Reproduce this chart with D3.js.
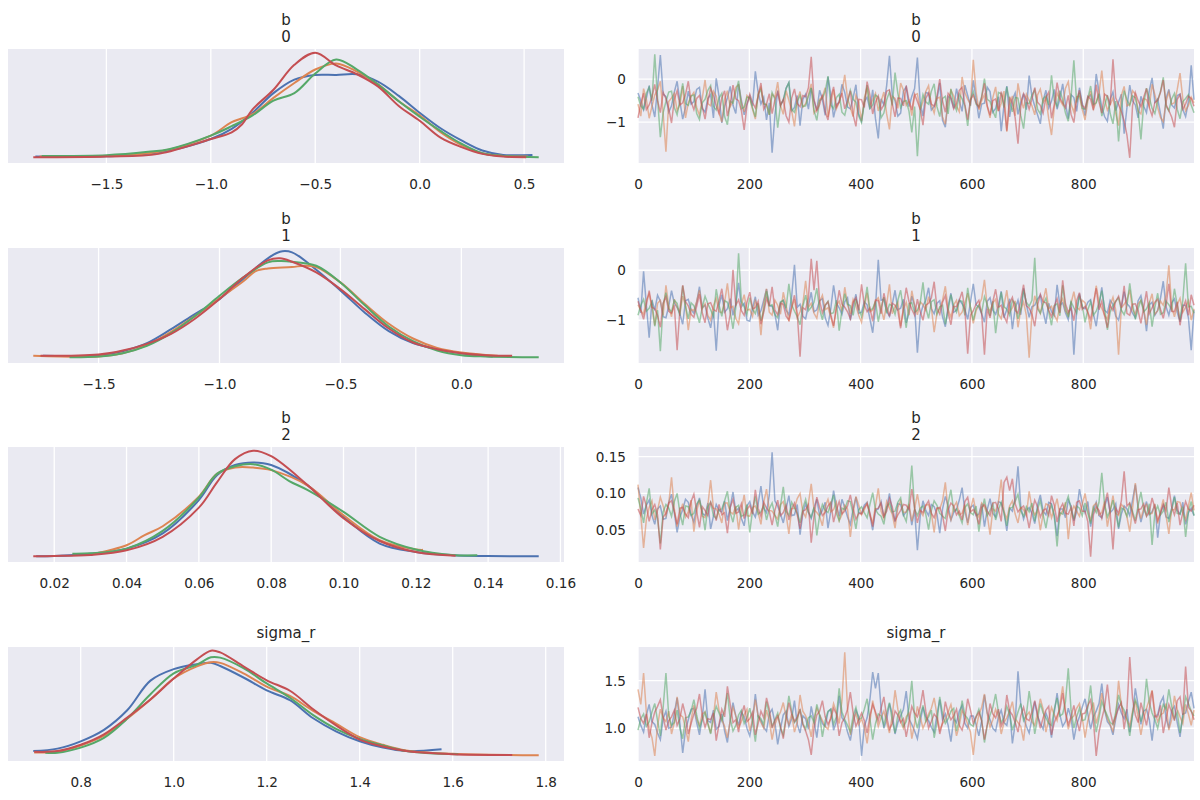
<!DOCTYPE html>
<html>
<head>
<meta charset="utf-8">
<script src="https://cdn.jsdelivr.net/npm/d3@7"></script>
<style>
  body { margin: 0; background: #fff; }
  svg { display: block; font-family: "DejaVu Sans", sans-serif; }
</style>
</head>
<body>
<svg id="chart" width="1200" height="800"></svg>
<script>
// chain colours (seaborn "deep")
const chainColors = ["#4c72b0", "#dd8452", "#55a868", "#c44e52"];

const titles = [["b", "0"], ["b", "1"], ["b", "2"], ["sigma_r"]];

// KDE per chain: [value, density]
const kdeB0 = [
  [[-1.84,0.01],[-1.5,0.015],[-1.25,0.07],[-1.0,0.27],[-0.9,0.42],[-0.8,0.66],[-0.7,0.95],[-0.6,1.15],[-0.5,1.22],[-0.4,1.22],[-0.3,1.23],[-0.2,1.12],[-0.1,0.91],[0.0,0.66],[0.1,0.43],[0.2,0.25],[0.3,0.1],[0.4,0.035],[0.54,0.035]],
  [[-1.82,0.01],[-1.5,0.02],[-1.25,0.08],[-1.0,0.32],[-0.9,0.52],[-0.8,0.64],[-0.7,0.88],[-0.6,1.1],[-0.5,1.3],[-0.4,1.39],[-0.3,1.27],[-0.2,1.08],[-0.1,0.83],[0.0,0.62],[0.1,0.37],[0.2,0.18],[0.3,0.06],[0.4,0.02],[0.52,0.01]],
  [[-1.81,0.02],[-1.5,0.03],[-1.3,0.08],[-1.2,0.12],[-1.0,0.32],[-0.9,0.46],[-0.8,0.62],[-0.7,0.84],[-0.6,0.95],[-0.5,1.24],[-0.4,1.45],[-0.3,1.3],[-0.2,1.08],[-0.1,0.83],[0.0,0.6],[0.1,0.39],[0.2,0.2],[0.3,0.06],[0.4,0.02],[0.57,0.0]],
  [[-1.85,0.0],[-1.5,0.01],[-1.25,0.05],[-1.0,0.27],[-0.9,0.37],[-0.85,0.49],[-0.8,0.71],[-0.7,1.0],[-0.6,1.37],[-0.5,1.55],[-0.4,1.36],[-0.3,1.23],[-0.2,1.05],[-0.1,0.76],[0.0,0.54],[0.1,0.29],[0.2,0.15],[0.3,0.05],[0.4,0.01],[0.51,0.0]]
];
const kdeB1 = [
  [[-1.73,0.02],[-1.5,0.03],[-1.4,0.09],[-1.3,0.21],[-1.2,0.42],[-1.1,0.65],[-1.0,0.87],[-0.9,1.18],[-0.8,1.48],[-0.75,1.58],[-0.7,1.57],[-0.6,1.31],[-0.5,1.0],[-0.4,0.67],[-0.3,0.39],[-0.2,0.21],[-0.1,0.12],[0.0,0.06],[0.13,0.01]],
  [[-1.77,0.02],[-1.5,0.01],[-1.4,0.06],[-1.3,0.18],[-1.2,0.38],[-1.1,0.62],[-1.0,0.88],[-0.9,1.14],[-0.85,1.29],[-0.8,1.33],[-0.7,1.35],[-0.65,1.37],[-0.6,1.35],[-0.5,1.12],[-0.4,0.8],[-0.3,0.5],[-0.2,0.28],[-0.1,0.14],[0.0,0.07],[0.15,0.02]],
  [[-1.62,0.0],[-1.5,0.01],[-1.4,0.06],[-1.3,0.17],[-1.2,0.36],[-1.1,0.62],[-1.0,0.92],[-0.9,1.2],[-0.8,1.42],[-0.75,1.44],[-0.7,1.43],[-0.6,1.37],[-0.5,1.12],[-0.4,0.78],[-0.3,0.46],[-0.2,0.24],[-0.1,0.1],[0.0,0.03],[0.1,0.01],[0.32,0.0]],
  [[-1.74,0.02],[-1.5,0.04],[-1.4,0.1],[-1.3,0.2],[-1.2,0.35],[-1.1,0.58],[-1.0,0.87],[-0.9,1.2],[-0.8,1.45],[-0.75,1.48],[-0.7,1.43],[-0.6,1.27],[-0.5,1.02],[-0.4,0.72],[-0.3,0.43],[-0.2,0.22],[-0.1,0.12],[0.0,0.06],[0.1,0.03],[0.21,0.02]]
];
const kdeB2 = [
  [[0.015,0.0],[0.02,0.05],[0.03,0.6],[0.04,1.8],[0.05,5.4],[0.06,13.3],[0.065,19.2],[0.07,21.6],[0.075,22.2],[0.08,21.6],[0.09,16.8],[0.1,9.3],[0.11,3.0],[0.12,1.0],[0.13,0.24],[0.14,0.05],[0.154,0.0]],
  [[0.03,0.4],[0.04,2.6],[0.045,5.0],[0.05,7.1],[0.06,14.1],[0.065,19.5],[0.07,21.0],[0.075,21.0],[0.08,20.4],[0.09,16.8],[0.1,9.7],[0.11,3.8],[0.12,1.6],[0.122,1.5]],
  [[0.025,0.6],[0.03,0.7],[0.04,1.8],[0.05,6.0],[0.06,13.9],[0.065,19.5],[0.07,21.3],[0.075,21.8],[0.08,20.5],[0.085,17.8],[0.09,15.7],[0.1,10.5],[0.11,4.6],[0.12,1.6],[0.13,0.3],[0.137,0.2]],
  [[0.0142,0.0],[0.02,0.05],[0.03,0.3],[0.04,1.4],[0.05,4.6],[0.06,11.5],[0.065,17.5],[0.07,23.0],[0.075,25.0],[0.08,23.7],[0.09,16.9],[0.1,9.0],[0.11,3.6],[0.12,1.0],[0.131,0.1]]
];
const kdeSigma = [
  [[0.698,0.12],[0.75,0.19],[0.8,0.4],[0.85,0.73],[0.9,1.29],[0.95,2.14],[1.0,2.47],[1.05,2.61],[1.08,2.65],[1.1,2.56],[1.15,2.23],[1.2,1.86],[1.25,1.58],[1.3,1.06],[1.35,0.68],[1.4,0.4],[1.45,0.22],[1.5,0.12],[1.576,0.17]],
  [[0.7,0.08],[0.75,0.1],[0.8,0.28],[0.85,0.56],[0.9,1.05],[0.95,1.6],[1.0,2.2],[1.05,2.55],[1.08,2.67],[1.1,2.65],[1.15,2.35],[1.2,1.97],[1.25,1.7],[1.3,1.27],[1.35,0.9],[1.4,0.52],[1.45,0.3],[1.5,0.14],[1.6,0.04],[1.785,0.0]],
  [[0.724,0.07],[0.75,0.07],[0.8,0.22],[0.85,0.5],[0.9,1.05],[0.95,1.75],[1.0,2.35],[1.05,2.6],[1.08,2.81],[1.1,2.8],[1.15,2.5],[1.2,2.06],[1.25,1.65],[1.3,1.15],[1.35,0.75],[1.4,0.47],[1.45,0.28],[1.5,0.12],[1.55,0.06],[1.612,0.03]],
  [[0.7,0.1],[0.75,0.12],[0.8,0.3],[0.85,0.6],[0.9,1.08],[0.95,1.6],[1.0,2.2],[1.05,2.75],[1.08,3.0],[1.1,2.95],[1.15,2.55],[1.2,2.15],[1.25,1.85],[1.3,1.32],[1.35,0.85],[1.4,0.45],[1.45,0.25],[1.5,0.12],[1.6,0.03],[1.728,0.01]]
];

// trace values, thinned draws (every ~5th of 1000)
const traceB0 = [
  [-0.32,-0.5,-0.71,-0.44,-0.15,-0.6,-0.88,-0.2,0.56,-0.35,-0.41,-0.77,-0.62,-0.3,-0.05,-0.52,-0.93,-0.66,-0.28,-0.58,
   -0.52,-0.24,-0.19,-0.68,-0.77,-0.45,-0.36,-0.9,0.02,-0.4,-1.02,-0.63,-0.44,-0.17,-0.61,-0.8,-0.12,-0.49,-0.83,-0.57,
   -0.39,-0.62,0.18,-0.3,-0.58,-0.42,-0.95,-0.55,-1.71,-0.85,-0.27,-0.6,-0.49,-0.21,-0.08,-0.74,-0.66,-0.38,-1.08,-0.47,
   -0.35,-0.7,-0.21,-0.5,-0.73,-0.26,-0.47,-0.84,0.05,-0.36,-0.89,-0.59,-0.54,-0.12,-0.31,-0.65,-0.69,-0.43,-0.13,-0.81,
   -0.97,-0.53,-0.42,-0.7,-0.25,-0.92,-1.38,-0.46,-0.6,-0.15,0.54,-0.37,-0.5,-0.86,-0.79,-0.28,-0.18,-0.64,-0.4,-0.22,
   0.5,-0.55,-0.86,-0.31,-0.33,-0.72,-0.64,-0.48,-0.09,-0.96,-1.12,-0.4,-0.45,-0.68,-0.22,-0.51,-0.75,-0.14,-0.38,-0.62,
   -0.03,-0.45,-0.91,-0.58,-0.56,-0.19,-0.29,-0.77,-0.68,-0.41,-1.21,-0.6,-0.16,-0.88,-0.48,-0.32,-0.82,-0.53,-0.34,-0.71,
   0.08,-0.4,-0.63,-0.83,-1.04,-0.5,-0.26,-0.67,-0.51,-0.24,-0.7,-0.45,-0.11,-0.58,-0.92,-0.36,-0.43,-0.75,-0.2,-0.55,
   -0.85,-0.42,-0.37,-0.61,0.12,-0.29,-0.65,-0.87,-0.98,-0.47,-0.3,-0.73,-0.53,-0.35,-1.27,-0.66,-0.14,-0.5,-0.6,-0.9,
   -0.4,-0.63,-0.78,-0.27,0.03,-0.54,-0.46,-0.8,-1.15,-0.44,-0.24,-0.6,-0.67,-0.38,-0.35,-0.71,-0.87,-0.52,0.32,-0.48],
  [-0.58,-0.86,-0.22,-0.47,-0.91,-0.63,-0.37,-0.25,-0.05,-0.8,-1.69,-0.52,-0.44,-0.33,-0.73,-0.6,-0.16,-0.9,-0.55,-0.4,
   -0.31,-0.66,-0.84,-0.45,-0.02,-0.57,-0.62,-0.28,-0.4,-0.78,-1.0,-0.48,-0.27,-0.64,-0.51,-0.19,-0.13,-0.55,-0.76,-0.38,
   -0.46,-0.7,-0.93,-0.34,-0.19,-0.56,-0.6,-0.83,-0.35,-0.42,-0.07,-0.61,-0.82,-0.27,-0.49,-0.74,-1.1,-0.5,-0.29,-0.65,
   -0.57,-0.36,-0.11,-0.79,-0.7,-0.47,-0.41,-0.2,-0.88,-0.58,-0.24,-0.69,-0.53,-0.31,0.1,-0.45,-0.66,-0.87,-0.38,-0.54,
   -0.97,-0.44,-0.2,-0.62,-0.48,-0.33,-0.74,-0.52,-0.3,-0.81,-1.17,-0.4,-0.45,-0.68,-0.09,-0.26,-0.61,-0.5,-0.85,-0.37,
   -0.34,-0.71,-0.52,-0.29,-0.15,-0.6,-0.79,-0.45,-0.42,-0.88,-1.05,-0.55,-0.26,-0.39,-0.63,-0.76,0.05,-0.32,-0.47,-0.58,
   0.45,-0.3,-0.71,-0.5,-0.36,-0.64,-0.9,-0.43,-0.18,-0.75,-0.56,-0.28,-1.22,-0.6,-0.39,-0.85,-0.1,-0.47,-0.68,-0.35,
   -0.5,-0.62,-0.83,-0.37,-0.23,-0.55,-0.44,-0.92,-1.3,-0.66,-0.32,-0.49,-0.6,-0.21,-0.06,-0.58,-0.77,-0.41,-0.4,-0.7,
   -0.95,-0.51,-0.28,-0.69,-0.54,-0.33,0.2,-0.46,-0.72,-0.6,-0.43,-0.8,-1.08,-0.38,-0.17,-0.62,-0.59,-0.27,-0.35,-0.74,
   -0.81,-0.45,-0.48,-0.63,-0.12,-0.36,-0.66,-0.89,-0.99,-0.52,-0.3,-0.58,-0.55,-0.24,0.14,-0.47,-0.74,-0.61,-0.42,-0.55],
  [-0.41,-0.62,-0.7,-0.33,-0.19,-0.5,0.58,-0.45,-1.35,-0.78,-0.52,-0.3,-0.28,-0.66,-0.83,-0.48,-0.1,-0.57,-0.61,-0.39,
   -0.37,-0.8,-0.94,-0.55,-0.47,-0.26,-0.15,-0.63,-0.72,-0.44,-0.33,-0.87,-1.06,-0.51,-0.56,-0.3,-0.04,-0.69,-0.65,-0.42,
   -0.43,-0.67,-0.88,-0.36,-0.24,-0.58,-0.59,-0.83,-0.31,-0.46,-1.13,-0.6,-0.49,-0.22,-0.08,-0.71,-0.77,-0.52,-0.38,-0.64,
   -0.62,-0.4,-0.2,-0.73,-0.96,-0.5,-0.45,-0.29,0.07,-0.6,-0.69,-0.43,-0.35,-0.77,-0.84,-0.56,-0.26,-0.47,-0.54,-0.86,
   -1.01,-0.55,-0.14,-0.68,-0.6,-0.37,-0.42,-0.9,-0.79,-0.48,-0.3,-0.61,0.15,-0.33,-0.66,-0.52,-0.5,-0.75,-1.24,-0.64,
   -1.79,-0.7,-0.36,-0.53,-0.58,-0.28,-0.11,-0.64,-0.87,-0.45,-0.4,-0.81,-0.23,-0.56,-0.73,-0.35,-0.46,-0.62,-1.09,-0.49,
   -0.29,-0.58,-0.64,-0.4,0.01,-0.47,-0.52,-0.74,-0.9,-0.31,-0.34,-0.66,-0.18,-0.52,-0.76,-0.43,-0.44,-0.85,-1.15,-0.55,
   -0.57,-0.37,-0.25,-0.7,-0.81,-0.46,-0.39,-0.6,0.09,-0.5,-0.63,-0.27,-0.48,-0.79,-0.98,-0.42,0.44,-0.54,-0.32,-0.68,
   -0.7,-0.45,-0.16,-0.59,-0.55,-0.34,-0.86,-0.62,-0.37,-0.8,-1.04,-0.51,-1.45,-0.66,-0.27,-0.48,-0.61,-0.39,-0.43,-0.74,
   -1.4,-0.57,-0.21,-0.43,-0.68,-0.8,-0.5,-0.29,0.04,-0.63,-0.74,-0.46,-0.33,-0.7,-0.92,-0.52,-0.45,-0.36,-0.6,-0.78],
  [-0.9,-0.56,-0.33,-0.71,-0.6,-0.42,-0.12,-0.5,-0.78,-0.31,-0.45,-0.68,-1.02,-0.47,-0.27,-0.6,-0.55,-0.36,-0.05,-0.52,
   -0.71,-0.45,-0.38,-0.64,-0.93,-0.52,-0.21,-0.39,-0.62,-0.8,-0.44,-0.27,-0.86,-0.58,-0.14,-0.46,-0.5,-0.73,-1.18,-0.61,
   -0.35,-0.55,-0.67,-0.41,-0.09,-0.7,-0.58,-0.34,-0.8,-0.49,-0.3,-0.62,-0.47,-0.85,-1.0,-0.44,-0.23,-0.57,-0.64,-0.38,
   -0.41,-0.2,0.52,-0.48,-0.74,-0.59,-0.36,-0.76,-0.95,-0.43,-0.18,-0.65,-0.53,-0.32,-0.69,-0.5,-0.27,-0.83,-1.1,-0.47,
   -0.48,-0.66,-0.06,-0.37,-0.81,-0.54,-0.39,-0.71,-0.6,-0.28,-0.25,-0.57,-0.88,-0.44,-0.45,-0.62,-0.15,-0.5,-0.72,-0.35,
   -0.52,-0.7,-1.07,-0.45,-0.32,-0.58,-0.63,-0.4,0.0,-0.51,-0.77,-0.33,-0.42,-0.69,-0.56,-0.26,-0.19,-0.6,-0.94,-0.48,
   -0.37,-0.55,-0.66,-0.43,-0.1,-0.62,-0.84,-0.5,-0.46,-0.74,-0.29,-0.58,-1.2,-0.41,-0.57,-0.9,-1.5,-0.63,-0.34,-0.47,
   -0.7,-0.46,-0.2,-0.54,-0.61,-0.79,-0.43,-0.3,-0.91,-0.58,-0.08,-0.44,-0.55,-0.67,-0.38,-0.82,-1.01,-0.49,-0.26,-0.61,
   -0.68,-0.4,-0.47,-0.72,-0.13,-0.53,-0.79,-0.35,-0.4,-0.6,0.46,-0.44,-0.59,-0.76,-0.97,-1.3,-1.83,-0.62,-0.31,-0.5,
   -0.64,-0.42,-0.22,-0.66,-0.85,-0.54,-0.5,-0.31,-0.02,-0.59,-0.73,-0.88,-1.12,-0.47,-0.36,-0.7,-0.58,-0.4,-0.45,-0.63]
];
const traceB1 = [
  [-0.55,-0.85,-0.02,-0.7,-1.35,-0.6,-0.8,-0.5,-0.62,-0.93,-0.95,-0.72,-0.41,-0.66,-0.74,-0.88,-1.08,-0.61,-0.58,-0.79,
   -0.86,-0.64,-0.33,-0.75,-0.7,-0.96,-1.15,-0.81,-1.61,-0.7,-0.49,-0.84,-0.77,-0.57,-0.9,-0.68,-0.25,-0.73,-0.66,-1.0,
   -1.02,-0.76,-0.53,-0.9,-0.81,-0.6,-0.38,-0.71,-0.72,-0.87,-1.2,-0.65,-0.6,-0.8,-0.89,-0.52,0.11,-0.74,-0.68,-0.92,
   -0.97,-0.7,-0.44,-0.83,-0.79,-0.61,-0.57,-0.95,-1.1,-0.77,-0.3,-0.66,-0.75,-0.88,-0.63,-0.55,-1.0,-0.72,-0.48,-0.86,
   -0.84,-0.63,-0.69,-0.97,-1.25,-0.74,0.21,-0.6,-0.58,-0.82,-0.92,-0.68,-0.4,-0.79,-0.76,-0.58,-1.05,-0.85,-0.52,-0.71,
   -1.65,-0.9,-0.71,-0.6,-0.35,-0.77,-0.87,-0.66,-0.61,-0.93,-1.13,-0.72,-0.46,-0.84,-0.8,-0.59,-0.67,-0.78,-0.98,-0.64,
   -0.27,-0.69,-0.74,-0.87,-1.04,-0.62,-0.55,-0.8,-0.88,-0.71,-0.42,-0.95,-0.78,-0.57,-1.18,-0.76,-0.6,-0.89,-0.36,-0.68,
   -0.94,-0.73,-0.7,-0.58,-0.5,-0.82,-1.07,-0.66,-0.83,-0.91,-0.29,-0.7,-0.65,-0.85,-0.99,-0.62,-1.69,-0.8,-0.47,-0.75,
   -0.77,-0.64,-0.59,-0.88,-1.12,-0.71,-0.34,-0.8,-0.85,-0.6,-0.68,-0.92,-1.0,-0.74,-0.43,-0.67,-0.73,-0.86,-0.95,-0.61,
   -0.51,-0.78,-1.22,-0.69,-0.64,-0.9,-0.8,-0.56,-0.22,-0.73,-0.9,-0.65,-0.57,-0.84,-1.03,-0.7,-0.7,-0.95,-1.6,-0.8],
  [-0.69,-0.81,-0.88,-0.6,-0.47,-0.75,-1.1,-0.66,-0.6,-0.9,-0.3,-0.72,-0.93,-0.58,-0.74,-0.85,-0.52,-0.7,-1.2,-0.78,
   -0.81,-0.62,-0.4,-0.77,-0.67,-0.9,-1.0,-0.71,-0.56,-0.83,-0.85,-0.64,-0.26,-0.75,-0.72,-0.96,-1.07,-0.68,-0.49,-0.8,
   -0.78,-0.92,-0.61,-0.73,-1.3,-0.65,-0.37,-0.84,-0.9,-0.6,-0.7,-0.88,-0.44,-0.7,-1.02,-0.76,-0.58,-0.95,-0.83,-0.67,
   -0.21,-0.74,-0.66,-0.86,-0.96,-0.63,-0.5,-0.79,-0.75,-0.93,-1.15,-0.7,-0.62,-0.82,-0.34,-0.69,-0.87,-0.58,-0.71,-0.9,
   -1.04,-0.72,-0.45,-0.83,-0.8,-0.61,-0.55,-0.76,-0.99,-0.68,-0.28,-0.87,-0.73,-0.64,-1.12,-0.79,-0.64,-0.9,-0.41,-0.7,
   -0.89,-0.63,-0.69,-0.8,-0.53,-0.74,-1.24,-0.86,-0.77,-0.6,-0.32,-0.78,-0.94,-0.69,-0.6,-0.91,-0.84,-0.66,-0.46,-0.75,
   -1.06,-0.81,-0.7,-0.57,-0.19,-0.73,-0.82,-0.65,-0.58,-0.88,-0.97,-0.7,-0.4,-0.84,-0.75,-0.61,-1.14,-0.79,-0.63,-0.9,
   -1.75,-0.86,-0.51,-0.7,-0.86,-0.62,-0.36,-0.77,-0.72,-0.89,-1.01,-0.68,-0.57,-0.81,-0.9,-0.66,-0.43,-0.74,-0.79,-0.6,
   -0.65,-0.85,-1.18,-0.72,-0.31,-0.64,-0.76,-0.9,-0.98,-0.7,-0.54,-0.8,-1.69,-0.75,-0.68,-0.6,-0.39,-0.78,-0.88,-0.67,
   -0.6,-0.79,-1.09,-0.66,-0.47,-0.88,-0.81,-0.62,-0.7,-0.5,0.1,-0.73,-0.93,-0.69,-0.56,-0.84,-0.74,-0.61,-1.0,-0.77],
  [-0.9,-0.7,-0.58,-0.82,-0.76,-0.63,-1.12,-0.8,-1.62,-0.68,-0.45,-0.77,-0.83,-0.6,-0.66,-0.91,-0.31,-0.72,-0.97,-0.65,
   -0.71,-0.86,-1.05,-0.74,-0.52,-0.67,-0.79,-0.92,-0.38,-0.7,-0.92,-0.61,-0.64,-0.83,-1.17,-0.75,0.34,-0.62,-0.73,-0.88,
   -0.55,-0.78,-0.87,-0.66,-1.01,-0.8,-0.42,-0.71,-0.69,-0.89,-0.95,-0.63,-0.6,-0.76,-0.27,-0.69,-0.82,-0.93,-1.09,-0.72,
   -0.5,-0.81,-0.74,-0.64,-0.36,-0.77,-0.99,-0.7,-0.62,-0.87,-0.85,-0.6,-1.21,-0.79,-0.47,-0.68,-0.71,-0.9,-0.58,-0.75,
   -0.93,-0.69,-0.33,-0.8,-0.77,-0.62,-1.03,-0.74,-0.54,-0.86,-0.68,-0.71,-0.88,-0.6,-0.4,-0.79,-1.15,-0.67,-0.65,-0.84,
   -0.8,-0.66,-0.24,-0.75,-0.96,-0.63,-0.59,-0.88,-0.73,-0.7,-1.08,-0.8,-0.49,-0.72,-0.84,-0.61,-0.62,-0.9,-0.35,-0.74,
   -1.0,-0.76,-0.7,-0.85,-0.53,-0.69,-0.91,-0.62,-1.26,-0.8,-0.44,-0.73,-0.78,-0.9,-0.6,-0.67,-0.97,-0.78,-0.39,-0.64,
   -0.72,-0.6,0.25,-0.77,-0.86,-0.68,-0.56,-0.83,-1.1,-0.71,-0.67,-0.91,-0.3,-0.74,-0.94,-0.63,-0.75,-0.86,-0.51,-0.7,
   -1.04,-0.79,-0.63,-0.9,-0.82,-0.66,-0.41,-0.75,-1.19,-0.84,-0.7,-0.62,-0.55,-0.8,-0.89,-0.71,-0.26,-0.68,-0.98,-0.77,
   -0.6,-0.83,-0.77,-0.65,-1.13,-0.74,-0.46,-0.88,-0.85,-0.62,-0.69,-0.79,-0.37,-0.7,-1.0,-0.6,0.14,-0.73,-0.72,-0.86],
  [-0.62,-0.8,-0.98,-0.69,-0.41,-0.74,-0.77,-0.9,-1.14,-0.66,-0.53,-0.82,-0.86,-0.7,-1.6,-0.78,-0.3,-0.63,-0.71,-0.88,
   -0.94,-0.72,-0.48,-0.85,-1.05,-0.67,-0.65,-0.79,-0.82,-0.61,-0.37,-0.75,-1.2,-0.88,0.01,-0.7,-0.59,-0.81,-0.9,-0.64,
   -0.44,-0.77,-0.75,-0.62,-1.08,-0.84,-0.56,-0.71,-0.33,-0.8,-0.89,-0.66,-0.68,-0.92,-1.0,-0.73,-0.5,-0.86,-1.73,-0.75,
   -0.79,-0.55,0.23,-0.4,0.19,-0.62,-0.85,-0.7,-0.63,-0.89,-1.11,-0.77,-0.4,-0.68,-0.74,-0.83,-0.97,-0.64,-0.55,-0.8,
   -0.28,-0.69,-0.83,-0.75,-1.02,-0.6,-0.61,-0.87,-0.46,-0.72,-0.92,-0.66,-0.7,-0.81,-1.16,-0.74,-0.35,-0.63,-0.78,-0.9,
   -0.58,-0.82,-1.0,-0.7,-0.66,-0.55,-0.23,-0.76,-0.88,-0.64,-0.51,-0.85,-1.09,-0.72,-0.73,-0.6,-0.43,-0.79,-1.67,-0.9,
   -0.81,-0.68,-0.6,-0.87,-1.69,-0.77,-0.95,-0.63,-0.38,-0.74,-0.7,-0.92,-1.04,-0.66,-0.54,-0.8,-0.86,-0.59,-0.29,-0.71,
   -0.76,-0.88,-1.12,-0.7,-0.48,-0.63,-0.65,-0.8,-0.93,-0.72,-0.57,-0.85,-0.2,-0.67,-0.84,-0.76,-1.01,-0.61,-0.45,-0.78,
   -0.72,-0.84,-0.99,-0.66,-0.36,-0.79,-0.62,-0.91,-1.15,-0.7,-0.8,-0.62,-0.52,-0.75,-0.31,-0.86,-0.9,-0.68,-0.67,-0.81,
   -1.06,-0.74,-0.42,-0.87,-0.75,-0.64,-0.58,-0.78,-0.96,-0.69,-0.27,-0.82,-0.83,-0.63,-1.1,-0.76,-0.61,-0.9,-0.49,-0.7]
];
const traceB2 = [
  [0.108,0.094,0.072,0.084,0.091,0.07,0.058,0.079,0.083,0.065,0.066,0.088,0.099,0.074,0.047,0.068,0.078,0.092,0.088,0.071,
   0.061,0.082,0.094,0.073,0.07,0.087,0.052,0.069,0.085,0.077,0.075,0.09,0.063,0.081,0.102,0.076,0.08,0.066,0.056,0.083,
   0.089,0.075,0.068,0.086,0.11,0.08,0.074,0.098,0.156,0.09,0.083,0.072,0.06,0.079,0.097,0.07,0.071,0.085,0.044,0.073,
   0.086,0.074,0.066,0.081,0.092,0.07,0.077,0.088,0.053,0.076,0.104,0.083,0.069,0.092,0.081,0.068,0.058,0.079,0.095,0.074,
   0.073,0.084,0.088,0.071,0.05,0.077,0.079,0.089,0.067,0.08,0.1,0.075,0.062,0.086,0.085,0.07,0.075,0.082,0.057,0.078,
   0.023,0.069,0.09,0.077,0.07,0.085,0.082,0.072,0.046,0.079,0.096,0.083,0.064,0.074,0.078,0.091,0.108,0.076,0.06,0.081,
   0.084,0.07,0.072,0.086,0.055,0.078,0.093,0.073,0.068,0.089,0.087,0.075,0.049,0.08,0.076,0.094,0.137,0.082,0.065,0.077,
   0.081,0.073,0.059,0.084,0.098,0.076,0.071,0.088,0.086,0.07,0.042,0.079,0.079,0.067,0.091,0.083,0.063,0.075,0.106,0.087,
   0.074,0.089,0.055,0.077,0.088,0.07,0.067,0.082,0.095,0.074,0.078,0.086,0.052,0.072,0.083,0.079,0.07,0.091,0.112,0.08,
   0.061,0.076,0.089,0.071,0.075,0.085,0.04,0.073,0.084,0.068,0.066,0.08,0.097,0.077,0.072,0.088,0.058,0.074,0.08,0.07],
  [0.112,0.071,0.026,0.065,0.081,0.09,0.064,0.077,0.095,0.083,0.07,0.086,0.122,0.079,0.055,0.073,0.086,0.068,0.075,0.091,
   0.048,0.076,0.091,0.069,0.067,0.084,0.118,0.08,0.079,0.072,0.06,0.087,0.087,0.075,0.072,0.083,0.051,0.078,0.098,0.07,
   0.069,0.081,0.083,0.074,0.058,0.088,0.106,0.077,0.076,0.07,0.065,0.085,0.089,0.072,0.045,0.079,0.08,0.093,0.1,0.075,
   0.068,0.087,0.113,0.078,0.074,0.069,0.056,0.082,0.092,0.075,0.078,0.088,0.063,0.071,0.084,0.079,0.041,0.073,0.096,0.084,
   0.071,0.078,0.087,0.07,0.06,0.083,0.107,0.076,0.066,0.089,0.08,0.072,0.053,0.081,0.09,0.074,0.075,0.086,0.062,0.079,
   0.099,0.077,0.07,0.084,0.085,0.073,0.047,0.08,0.079,0.09,0.115,0.075,0.064,0.082,0.088,0.071,0.073,0.085,0.057,0.078,
   0.094,0.074,0.068,0.087,0.082,0.071,0.044,0.079,0.076,0.088,0.119,0.076,0.065,0.083,0.09,0.072,0.06,0.081,0.078,0.07,
   0.103,0.08,0.071,0.077,0.05,0.072,0.086,0.084,0.067,0.079,0.093,0.07,0.077,0.088,0.038,0.073,0.083,0.076,0.069,0.085,
   0.1,0.078,0.062,0.083,0.087,0.071,0.074,0.089,0.055,0.076,0.097,0.073,0.07,0.085,0.081,0.068,0.048,0.079,0.114,0.082,
   0.066,0.08,0.085,0.072,0.073,0.086,0.059,0.076,0.092,0.07,0.045,0.078,0.078,0.089,0.088,0.074,0.064,0.083,0.101,0.077],
  [0.094,0.079,0.06,0.087,0.107,0.072,0.078,0.066,0.032,0.075,0.085,0.08,0.069,0.089,0.1,0.074,0.057,0.083,0.082,0.07,
   0.073,0.086,0.091,0.076,0.05,0.082,0.088,0.07,0.066,0.078,0.079,0.09,0.103,0.074,0.061,0.081,0.084,0.069,0.071,0.085,
   0.047,0.077,0.096,0.072,0.075,0.084,0.064,0.079,0.087,0.071,0.055,0.083,0.109,0.076,0.07,0.088,0.08,0.073,0.06,0.08,
   0.092,0.075,0.068,0.081,0.043,0.07,0.085,0.077,0.074,0.086,0.098,0.073,0.063,0.08,0.078,0.09,0.089,0.072,0.052,0.078,
   0.082,0.074,0.067,0.085,0.101,0.078,0.072,0.069,0.058,0.082,0.087,0.075,0.076,0.088,0.094,0.071,0.062,0.09,0.138,0.079,
   0.07,0.08,0.083,0.072,0.051,0.077,0.09,0.084,0.073,0.069,0.066,0.087,0.105,0.076,0.079,0.07,0.06,0.081,0.086,0.074,
   0.071,0.083,0.048,0.075,0.093,0.07,0.077,0.086,0.064,0.078,0.088,0.073,0.056,0.08,0.081,0.089,0.099,0.076,0.069,0.082,
   0.075,0.087,0.062,0.079,0.09,0.071,0.053,0.076,0.084,0.069,0.028,0.074,0.072,0.085,0.096,0.078,0.065,0.083,0.08,0.07,
   0.087,0.073,0.059,0.081,0.074,0.088,0.128,0.085,0.068,0.077,0.091,0.072,0.054,0.08,0.078,0.069,0.086,0.076,0.063,0.084,
   0.102,0.079,0.07,0.086,0.03,0.074,0.083,0.071,0.076,0.088,0.061,0.077,0.095,0.073,0.072,0.082,0.041,0.075,0.089,0.07],
  [0.079,0.07,0.096,0.083,0.062,0.078,0.085,0.071,0.024,0.068,0.073,0.087,0.09,0.075,0.058,0.08,0.081,0.072,0.067,0.089,
   0.099,0.076,0.054,0.082,0.077,0.07,0.088,0.079,0.063,0.085,0.071,0.074,0.046,0.081,0.092,0.073,0.075,0.086,0.066,0.078,
   0.084,0.072,0.105,0.08,0.069,0.088,0.08,0.075,0.057,0.077,0.091,0.07,0.074,0.084,0.064,0.079,0.087,0.071,0.052,0.076,
   0.078,0.085,0.033,0.069,0.095,0.081,0.07,0.074,0.083,0.088,0.061,0.077,0.089,0.072,0.076,0.083,0.098,0.079,0.065,0.073,
   0.072,0.081,0.086,0.074,0.055,0.079,0.08,0.087,0.069,0.076,0.093,0.082,0.063,0.071,0.077,0.085,0.084,0.078,0.106,0.08,
   0.06,0.077,0.074,0.084,0.09,0.073,0.067,0.08,0.081,0.07,0.049,0.078,0.087,0.083,0.071,0.076,0.064,0.089,0.095,0.075,
   0.078,0.072,0.058,0.081,0.085,0.076,0.07,0.087,0.088,0.079,0.062,0.115,0.122,0.104,0.12,0.086,0.075,0.08,0.083,0.073,
   0.053,0.075,0.091,0.082,0.068,0.077,0.079,0.07,0.097,0.084,0.061,0.079,0.086,0.073,0.072,0.081,0.056,0.088,0.09,0.076,
   0.076,0.062,0.014,0.071,0.082,0.077,0.066,0.085,0.101,0.074,0.024,0.08,0.073,0.09,0.13,0.083,0.087,0.072,0.059,0.078,
   0.079,0.086,0.069,0.075,0.094,0.08,0.063,0.073,0.085,0.077,0.108,0.082,0.071,0.087,0.057,0.074,0.089,0.079,0.076,0.084]
];
const traceSigma = [
  [1.12,1.03,0.96,1.14,1.25,1.07,1.04,0.95,0.88,1.1,1.18,1.0,1.01,1.16,1.32,1.05,0.74,0.98,1.09,1.2,
   1.21,1.06,0.93,1.11,1.41,1.08,1.06,1.19,0.99,1.02,1.15,0.97,0.85,1.09,1.27,1.13,1.03,1.17,1.12,1.0,
   0.92,1.08,1.36,1.12,1.08,1.01,0.97,1.15,1.2,1.06,0.83,1.0,1.14,1.18,1.02,1.1,1.29,1.04,0.95,1.13,
   1.1,0.99,1.23,1.08,0.9,1.14,1.05,1.02,1.17,1.2,0.98,1.07,1.34,1.11,1.07,0.96,0.87,1.05,1.19,1.12,
   0.71,1.02,1.11,1.3,1.59,1.42,1.58,1.21,1.0,1.09,1.26,1.15,0.94,1.06,1.13,1.2,1.39,1.1,1.04,0.97,
   0.89,1.07,1.22,1.12,1.08,1.01,0.96,1.14,1.3,1.09,1.15,1.03,0.86,1.1,1.06,1.18,1.24,1.05,1.0,1.13,
   1.13,1.04,0.92,1.08,1.35,1.16,1.09,1.0,0.97,1.12,1.19,1.06,1.03,1.2,0.84,1.05,1.6,1.25,1.11,1.02,
   0.95,1.1,1.28,1.13,1.05,0.99,1.16,1.08,0.9,1.17,1.37,1.14,1.02,1.07,1.21,1.11,0.88,1.04,1.12,1.22,
   1.31,1.15,0.99,1.12,1.18,1.26,1.47,1.19,1.07,1.03,0.93,1.1,1.25,1.16,1.1,1.2,0.96,1.14,1.42,1.24,
   1.04,1.18,1.2,1.09,0.87,1.13,1.14,1.27,1.33,1.11,1.0,1.19,1.23,1.06,0.91,1.15,1.16,1.28,1.38,1.21],
  [1.41,1.25,1.58,1.16,1.0,0.9,0.71,1.03,1.2,1.11,1.07,1.18,0.94,1.06,1.33,1.14,1.12,1.0,0.86,1.09,
   1.24,1.1,1.03,1.15,1.17,1.05,0.95,1.12,1.38,1.19,1.09,1.02,0.9,1.08,1.22,1.13,1.01,1.07,1.14,1.2,
   0.97,1.09,1.3,1.13,1.06,1.0,1.19,1.08,0.88,1.04,1.11,1.17,1.27,1.12,1.04,1.15,0.96,1.06,1.35,1.18,
   1.13,1.05,0.91,1.1,1.21,1.14,1.08,1.02,0.99,1.12,1.26,1.17,1.05,1.29,1.8,1.2,0.93,1.08,1.16,1.04,
   1.1,1.01,0.84,1.07,1.29,1.15,1.02,1.11,1.18,1.06,0.95,1.13,1.4,1.2,1.07,1.0,1.12,1.16,0.89,1.05,
   1.23,1.12,1.0,1.07,1.15,1.21,1.32,1.14,0.98,1.05,1.09,1.17,1.25,1.1,0.92,1.03,1.19,1.13,1.04,0.96,
   0.72,1.0,1.14,1.22,1.36,1.15,1.01,1.09,1.2,1.12,0.94,1.06,1.11,1.18,1.28,1.1,1.06,1.02,0.87,1.13,
   1.17,1.07,1.03,1.16,1.31,1.2,0.96,1.09,1.22,1.14,1.08,1.25,1.44,1.18,0.99,1.1,1.13,1.21,1.26,1.12,
   0.9,1.08,1.19,1.27,1.05,1.16,1.37,1.2,1.1,1.04,0.97,1.13,1.5,1.24,1.15,1.09,1.02,1.18,1.29,1.11,
   0.93,1.1,1.21,1.3,1.4,1.17,1.07,1.14,1.16,1.26,0.98,1.09,1.34,1.2,1.12,1.05,1.25,1.15,1.03,1.19],
  [0.98,1.1,1.15,1.02,1.07,1.17,1.26,1.08,0.92,1.22,1.58,1.13,1.03,1.06,1.19,1.0,0.89,1.11,1.12,1.18,
   1.3,1.14,1.0,1.09,1.17,1.05,0.94,1.12,1.23,1.16,1.08,1.2,1.37,1.1,0.97,1.03,1.14,1.19,1.05,1.11,
   1.21,1.07,0.86,1.13,1.1,1.04,1.28,1.15,1.02,1.09,1.16,1.0,0.93,1.12,1.34,1.18,1.06,1.1,1.2,1.05,
   0.99,1.11,1.13,1.06,1.25,1.14,0.91,1.08,1.18,1.2,1.04,1.12,1.42,1.17,1.09,1.03,0.96,1.13,1.22,1.09,
   1.11,1.2,1.31,1.1,0.88,1.05,1.15,1.13,1.03,1.16,1.27,1.08,0.95,1.14,1.19,1.02,1.07,1.22,1.5,1.12,
   1.0,1.13,1.24,1.07,1.12,1.19,0.9,1.06,1.33,1.15,1.05,1.1,1.18,1.21,0.97,1.09,1.29,1.14,1.1,1.04,
   1.02,1.12,1.2,1.08,0.85,1.03,1.14,1.22,1.36,1.17,1.06,1.11,1.23,1.15,0.98,1.07,1.17,1.26,1.08,1.14,
   1.39,1.18,0.94,1.1,1.26,1.16,1.11,1.05,1.03,1.2,1.32,1.13,1.15,1.28,1.63,1.19,1.0,1.12,1.21,1.08,
   1.09,1.22,1.45,1.16,0.96,1.11,1.28,1.2,1.13,1.06,1.04,1.17,1.35,1.24,1.19,1.1,0.92,1.15,1.3,1.21,
   1.07,1.19,1.52,1.27,1.16,1.09,1.0,1.14,1.25,1.2,1.41,1.23,1.1,1.17,0.95,1.12,1.33,1.26,1.18,1.13],
  [1.22,1.1,1.05,1.15,0.9,1.06,1.17,1.23,1.3,1.12,0.98,1.08,1.12,1.19,1.03,1.1,1.26,1.14,0.94,1.05,
   1.15,1.21,1.36,1.13,1.01,1.1,1.09,1.16,0.87,1.04,1.2,1.12,1.44,1.25,1.06,1.09,0.96,1.14,1.24,1.07,
   1.1,1.17,0.93,1.05,1.18,1.11,1.32,1.2,1.0,1.08,1.13,1.02,0.89,1.1,1.27,1.15,1.07,1.12,1.19,1.04,
   0.97,0.88,0.72,1.0,1.14,1.18,1.29,1.12,1.04,1.1,1.21,1.15,0.92,1.06,1.11,1.2,1.38,1.16,1.02,1.09,
   1.16,1.08,0.95,1.13,1.25,1.17,1.08,1.21,1.33,1.12,0.99,1.05,1.18,1.14,1.06,1.1,0.91,1.07,1.23,1.16,
   1.12,1.22,1.4,1.18,1.0,1.07,1.15,1.11,0.94,1.06,1.28,1.16,1.09,1.13,1.2,1.03,0.98,1.1,1.31,1.19,
   1.05,1.12,1.17,1.08,0.88,1.04,1.26,1.15,1.11,1.2,1.02,1.09,1.35,1.18,1.14,1.06,0.96,1.13,1.22,1.1,
   1.08,1.17,1.29,1.14,1.0,1.11,1.19,1.23,0.93,1.06,1.13,1.2,1.37,1.16,1.04,1.12,1.24,1.09,0.97,1.15,
   1.16,1.24,1.3,1.08,0.71,0.96,1.1,1.22,1.46,1.18,1.05,1.13,1.21,1.27,0.99,1.2,1.75,1.31,1.14,1.06,
   1.27,1.15,1.03,1.2,1.39,1.12,1.12,1.24,0.95,1.1,1.25,1.17,1.08,1.29,1.33,1.14,1.65,1.22,1.18,1.09]
];
const nDraws = 1000;

// tick values
const kdeTicks = [
  [-1.5, -1.0, -0.5, 0.0, 0.5],
  [-1.5, -1.0, -0.5, 0.0],
  [0.02, 0.04, 0.06, 0.08, 0.10, 0.12, 0.14, 0.16],
  [0.8, 1.0, 1.2, 1.4, 1.6, 1.8]
];
const kdeFormats = [".1f", ".1f", ".2f", ".1f"];
const drawTicks = [0, 200, 400, 600, 800];
const traceTicks = [[-1, 0], [-1, 0], [0.05, 0.10, 0.15], [1.0, 1.5]];
const traceFormats = ["d", "d", ".2f", ".1f"];

const kdes = [kdeB0, kdeB1, kdeB2, kdeSigma];
const traces = [traceB0, traceB1, traceB2, traceSigma];

// layout
const rowTop = [49, 248, 447, 647];
const rowBottom = [163, 363, 562, 761];
const leftX = [8, 564];
const rightX = [638, 1194];
const textColor = "#262626";
const bg = "#eaeaf2";

const svg = d3.select("#chart");

function padded(lo, hi, f) {
  const r = hi - lo;
  return [lo - r * f, hi + r * f];
}

function panelBg(x, top, bottom) {
  svg.append("rect")
    .attr("x", x[0]).attr("y", top)
    .attr("width", x[1] - x[0]).attr("height", bottom - top)
    .attr("fill", bg);
}

function styleAxis(g) {
  g.select(".domain").remove();
  g.selectAll("text")
    .attr("fill", textColor)
    .style("font-size", "13.6px")
    .style("font-family", "DejaVu Sans");
}

titles.forEach((t, i) => {
  const top = rowTop[i], bottom = rowBottom[i];

  // ---------- density (left) ----------
  panelBg(leftX, top, bottom);
  const kde = kdes[i];
  const allX = kde.flat().map(d => d[0]);
  const maxD = d3.max(kde.flat(), d => d[1]);
  const x = d3.scaleLinear().domain(padded(d3.min(allX), d3.max(allX), 0.05)).range(leftX);
  const y = d3.scaleLinear().domain([-0.055 * maxD, 1.035 * maxD]).range([bottom, top]);

  svg.append("g").selectAll("line")
    .data(kdeTicks[i])
    .enter().append("line")
    .attr("x1", d => x(d)).attr("x2", d => x(d))
    .attr("y1", top).attr("y2", bottom)
    .attr("stroke", "#fff").attr("stroke-width", 1.3);

  svg.append("g")
    .attr("transform", `translate(0,${bottom})`)
    .call(d3.axisBottom(x).tickValues(kdeTicks[i]).tickFormat(d3.format(kdeFormats[i])).tickSize(0).tickPadding(16))
    .call(styleAxis);

  const line = d3.line()
    .x(d => x(d[0]))
    .y(d => y(d[1]))
    .curve(d3.curveCatmullRom.alpha(0.5));

  svg.append("g").selectAll("path")
    .data(kde)
    .enter().append("path")
    .attr("d", line)
    .attr("fill", "none")
    .attr("stroke", (d, c) => chainColors[c])
    .attr("stroke-width", 2);

  // ---------- trace (right) ----------
  panelBg(rightX, top, bottom);
  const tr = traces[i];
  const tx = d3.scaleLinear().domain([0, nDraws - 1]).range(rightX);
  const ext = d3.extent(tr.flat());
  const ty = d3.scaleLinear().domain(padded(ext[0], ext[1], 0.05)).range([bottom, top]);

  svg.append("g").selectAll("line")
    .data(drawTicks)
    .enter().append("line")
    .attr("x1", d => tx(d)).attr("x2", d => tx(d))
    .attr("y1", top).attr("y2", bottom)
    .attr("stroke", "#fff").attr("stroke-width", 1.3);
  svg.append("g").selectAll("line")
    .data(traceTicks[i])
    .enter().append("line")
    .attr("x1", rightX[0]).attr("x2", rightX[1])
    .attr("y1", d => ty(d)).attr("y2", d => ty(d))
    .attr("stroke", "#fff").attr("stroke-width", 1.3);

  svg.append("g")
    .attr("transform", `translate(0,${bottom})`)
    .call(d3.axisBottom(tx).tickValues(drawTicks).tickSize(0).tickPadding(16))
    .call(styleAxis);
  svg.append("g")
    .attr("transform", `translate(${rightX[0]},0)`)
    .call(d3.axisLeft(ty).tickValues(traceTicks[i]).tickFormat(d3.format(traceFormats[i])).tickSize(0).tickPadding(12))
    .call(styleAxis);

  const tline = d3.line()
    .x((d, k, arr) => tx(k * (nDraws - 1) / (arr.length - 1)))
    .y(d => ty(d));

  svg.append("g").selectAll("path")
    .data(tr)
    .enter().append("path")
    .attr("d", tline)
    .attr("fill", "none")
    .attr("stroke", (d, c) => chainColors[c])
    .attr("stroke-width", 1.5)
    .attr("stroke-opacity", 0.55);

  // ---------- titles ----------
  [leftX, rightX].forEach(cx => {
    const mid = (cx[0] + cx[1]) / 2;
    const tt = svg.append("text")
      .attr("text-anchor", "middle")
      .attr("fill", textColor)
      .style("font-size", "15px");
    if (t.length === 2) {
      tt.append("tspan").attr("x", mid).attr("y", top - 24).text(t[0]);
      tt.append("tspan").attr("x", mid).attr("y", top - 7).text(t[1]);
    } else {
      tt.append("tspan").attr("x", mid).attr("y", top - 9).text(t[0]);
    }
  });
});
</script>
</body>
</html>
